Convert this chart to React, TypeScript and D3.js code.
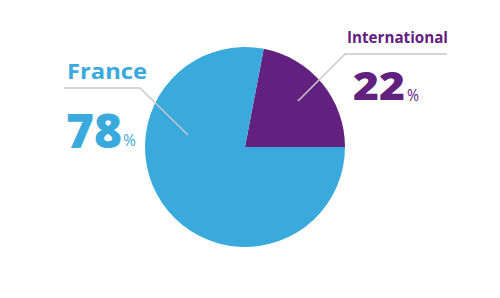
import React from "react";
import * as d3 from "d3";

const categories = ["International", "France"];
const values = [22, 78];
const colors = ["#62207f", "#3aa9db"];

const W = 500, H = 298;
const cx = 245, cy = 147, R = 100;

export default function App() {
  // International ends at 3 o'clock
  const endIntl = Math.PI / 2;
  const startIntl = endIntl - (values[0] / 100) * Math.PI * 2;
  const p = d3.pie<number>().sort(null).startAngle(startIntl).endAngle(startIntl + Math.PI * 2).value((d) => d);
  const arcs = p(values);
  const arc = d3.arc<d3.PieArcDatum<number>>().innerRadius(0).outerRadius(R);
  return (
    <svg width={W} height={H} style={{ position: "absolute", left: 0, top: 0 }}>
      <g transform={`translate(${cx},${cy})`}>
        {arcs.map((a, i) => (
          <path key={categories[i]} d={arc(a) || ""} fill={colors[i]} />
        ))}
      </g>
      <g stroke="#c8c8c8" strokeWidth={1.5} fill="none">
        <polyline points="64,88 140,88 188,135" />
        <polyline points="447,54 345,54 298,101" />
      </g>
      <g fontFamily="'Open Sans', sans-serif">
        <text x={67} y={79} fontSize={22} fontWeight={700} fill={colors[1]} textLength={80} lengthAdjust="spacingAndGlyphs">{categories[1]}</text>
        <text x={66} y={148} fontSize={48} fontWeight={800} fill={colors[1]} textLength={56} lengthAdjust="spacingAndGlyphs">{values[1]}</text>
        <text x={123} y={146} fontSize={17} fontWeight={400} fill={colors[1]} textLength={13} lengthAdjust="spacingAndGlyphs">%</text>
        <text x={347} y={43} fontSize={15.5} fontWeight={700} fill={colors[0]} textLength={101} lengthAdjust="spacingAndGlyphs">{categories[0]}</text>
        <text x={353} y={100} fontSize={38} fontWeight={800} fill={colors[0]} textLength={52} lengthAdjust="spacingAndGlyphs">{values[0]}</text>
        <text x={407} y={101} fontSize={16} fontWeight={400} fill={colors[0]} textLength={12} lengthAdjust="spacingAndGlyphs">%</text>
      </g>
    </svg>
  );
}
